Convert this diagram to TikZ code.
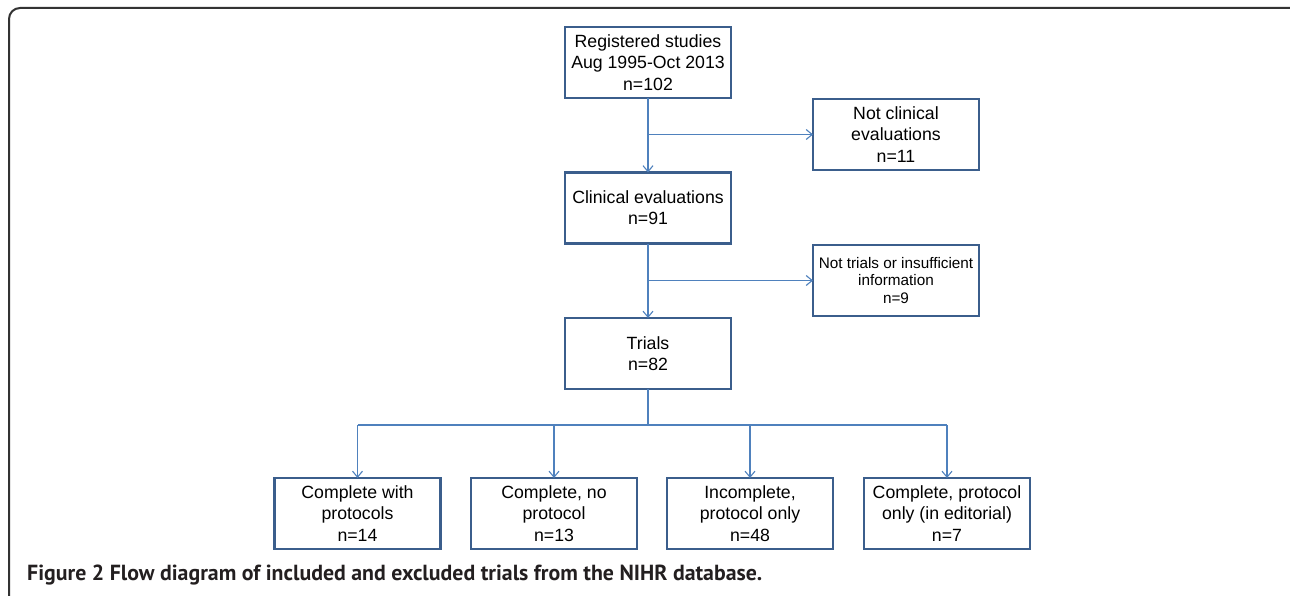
\documentclass[tikz,border=0pt]{standalone}
\usepackage{fontspec}
\setmainfont{Liberation Sans}
\newfontfamily\capfont{PT Sans}
\usetikzlibrary{arrows.meta}
\definecolor{boxblue}{HTML}{3B5E8C}
\definecolor{linkblue}{HTML}{4F81BD}
\definecolor{framegray}{HTML}{333333}
\definecolor{captext}{HTML}{231F20}
\tikzset{
  stagebox/.style={draw=boxblue, line width=2.6pt, minimum width=166pt, minimum height=71pt,
    align=center, inner sep=0pt, outer sep=0pt, font=\fontsize{17.7}{21.3}\selectfont},
  smalltext/.style={font=\fontsize{15.3}{17.7}\selectfont},
  link/.style={draw=linkblue, line width=1.3pt},
  linkarrow/.style={link, -{Straight Barb[length=6pt,width=10pt,line width=1.1pt]}},
}
\begin{document}
\begin{tikzpicture}[x=1pt,y=-1pt]
\useasboundingbox (0,0) rectangle (1290,596);
\begin{scope}
  \clip (0,0) rectangle (1290,596);
  \draw[framegray, line width=2pt, rounded corners=11pt] (9,8) rectangle (1310,608);
\end{scope}

\node[stagebox] (reg) at (648,62.5) {Registered studies\\Aug 1995-Oct 2013\\n=102};
\node[stagebox] (nc) at (896,134.5) {Not clinical\\evaluations\\n=11};
\node[stagebox] (clin) at (648,208) {Clinical evaluations\\n=91};
\node[stagebox, smalltext] (nt) at (896,280.5) {Not trials or insufficient\\information\\n=9};
\node[stagebox] (trials) at (648,353.5) {Trials\\n=82};

\node[stagebox] (b1) at (357.5,513.5) {Complete with\\protocols\\n=14};
\node[stagebox] (b2) at (554,513.5) {Complete, no\\protocol\\n=13};
\node[stagebox] (b3) at (750,513.5) {Incomplete,\\protocol only\\n=48};
\node[stagebox] (b4) at (947,513.5) {Complete, protocol\\only (in editorial)\\n=7};

\coordinate (hy) at (0,425);

\draw[linkarrow] (reg) -- (clin);
\draw[linkarrow] (reg.south |- nc.west) -- (nc.west);
\draw[linkarrow] (clin) -- (trials);
\draw[linkarrow] (clin.south |- nt.west) -- (nt.west);

\draw[link] (trials.south) -- (trials.south |- hy);
\draw[link] (b1.north |- hy) -- (b4.north |- hy);
\foreach \b in {b1,b2,b3,b4}{
  \draw[linkarrow] (\b.north |- hy) -- (\b.north);
}

\node[anchor=base west, inner sep=0pt, text=captext] (cap) at (27,580)
  {\resizebox{735pt}{!}{\capfont\bfseries Figure 2 Flow diagram of included and excluded trials from the NIHR database.}};
\end{tikzpicture}
\end{document}
